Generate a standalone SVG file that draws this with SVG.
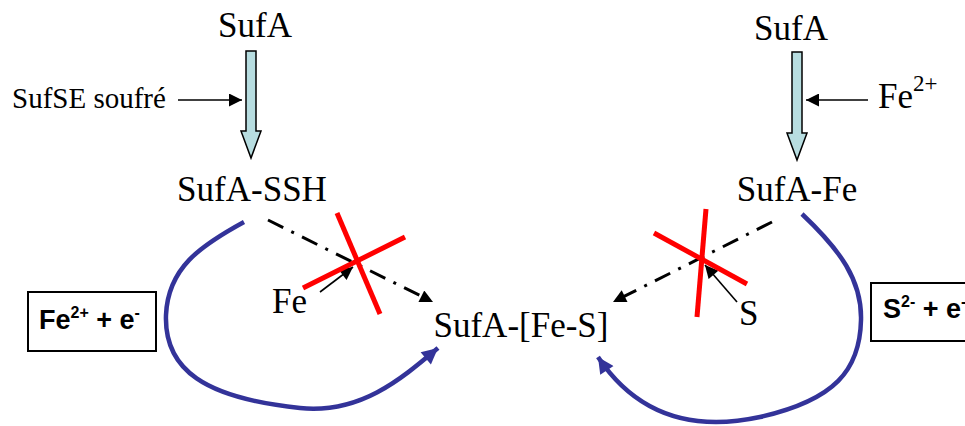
<svg xmlns="http://www.w3.org/2000/svg" width="965" height="426" viewBox="0 0 965 426">
<style>
.t{font-family:"Liberation Serif","Times New Roman",serif;font-size:35px;fill:#000}
.ts{font-family:"Liberation Serif","Times New Roman",serif;font-size:29px;fill:#000}
.b{font-family:"Liberation Sans",Arial,sans-serif;font-weight:bold;font-size:27px;fill:#000}
.sup{font-size:16px}
.blk{fill:#b7dde0;stroke:#000;stroke-width:1.5}
.dash{fill:none;stroke:#000;stroke-width:3;stroke-dasharray:17 9 3 9}
.thin{fill:none;stroke:#000;stroke-width:1.6}
.red{stroke:#ff0000;stroke-width:5;fill:none}
.blue{fill:none;stroke:#333399;stroke-width:4.5}
.box{fill:#fff;stroke:#000;stroke-width:2}
</style>
<defs>
<marker id="ah" viewBox="0 0 10 10" refX="10" refY="5" markerWidth="16" markerHeight="13" markerUnits="userSpaceOnUse" orient="auto"><path d="M0,0 L10,5 L0,10 z" fill="#000"/></marker>
<marker id="as" viewBox="0 0 10 10" refX="10" refY="5" markerWidth="14" markerHeight="13" markerUnits="userSpaceOnUse" orient="auto"><path d="M0,0 L10,5 L0,10 z" fill="#000"/></marker>
<marker id="ab" viewBox="0 0 10 10" refX="10" refY="5" markerWidth="20" markerHeight="16" markerUnits="userSpaceOnUse" orient="auto"><path d="M0,0 L10,5 L0,10 z" fill="#333399"/></marker>
</defs>
<g id="sufa-left"><text class="t" x="255" y="37" text-anchor="middle">SufA</text></g>
<g id="sufa-right"><text class="t" x="791" y="40" text-anchor="middle">SufA</text></g>
<g id="sufa-ssh"><text class="t" x="252" y="201" text-anchor="middle">SufA-SSH</text></g>
<g id="sufa-fe"><text class="t" x="797" y="201" text-anchor="middle">SufA-Fe</text></g>
<g id="sufa-fes"><text class="t" x="521" y="337" text-anchor="middle">SufA-[Fe-S]</text></g>
<g id="sufse"><text class="ts" x="12" y="108">SufSE soufré</text></g>
<g id="fe2plus"><text class="t" x="878" y="108">Fe<tspan font-size="23" dy="-17">2+</tspan></text></g>
<g id="fe-label"><text class="t" x="272" y="313">Fe</text></g>
<g id="s-label"><text class="t" x="739" y="325">S</text></g>
<g id="box-left"><rect class="box" x="28" y="292" width="128" height="59"/><text class="b" x="39" y="329">Fe<tspan class="sup" dy="-11">2+</tspan><tspan dy="11"> + e</tspan><tspan class="sup" dy="-11">-</tspan></text></g>
<g id="box-right"><rect class="box" x="871" y="283" width="110" height="58"/><text class="b" x="883" y="318">S<tspan class="sup" dy="-11">2-</tspan><tspan dy="11"> + e</tspan><tspan class="sup" dy="-11">-</tspan></text></g>
<g id="connectors">
<polygon class="blk" points="246,51 256,51 256,131 261,131 251,158 241,131 246,131"/>
<polygon class="blk" points="792,52 802,52 802,133 807,133 797,160 787,133 792,133"/>
<line class="thin" x1="178" y1="100" x2="242" y2="100" marker-end="url(#ah)"/>
<line class="thin" x1="868" y1="100" x2="806" y2="100" marker-end="url(#ah)"/>
<line class="dash" x1="268" y1="220" x2="433" y2="302" marker-end="url(#ah)"/>
<line class="dash" x1="772" y1="222" x2="613" y2="302" marker-end="url(#ah)"/>
<line class="thin" x1="320" y1="292" x2="353" y2="267" marker-end="url(#as)"/>
<line class="thin" x1="737" y1="302" x2="705" y2="265" marker-end="url(#as)"/>
<path class="blue" d="M244,222 C200,246 168,268 166,315 C164,370 205,398 300,408 C360,414 400,380 438,348" marker-end="url(#ab)"/>
<path class="blue" d="M802,214 C840,250 862,280 861,320 C860,370 835,400 760,417 C700,430 640,420 598,357" marker-end="url(#ab)"/>
<line class="red" x1="337" y1="213" x2="380" y2="314"/>
<line class="red" x1="303" y1="288" x2="405" y2="237"/>
<line class="red" x1="706" y1="209" x2="697" y2="317"/>
<line class="red" x1="654" y1="233" x2="747" y2="284"/>
</g>
</svg>
